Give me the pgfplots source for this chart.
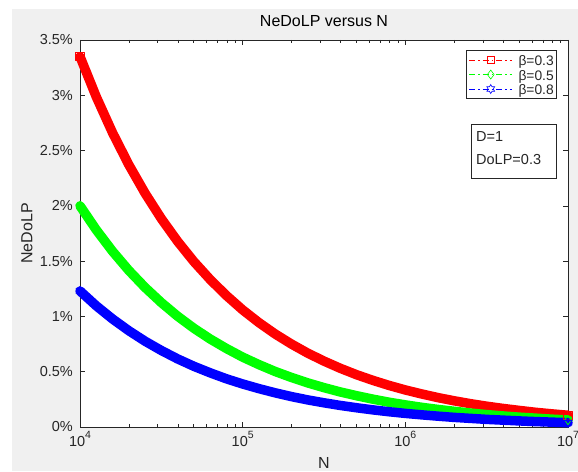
\documentclass[border=0pt]{standalone}
\usepackage{fontspec}
\setmainfont{Liberation Sans}
\usepackage{pgfplots}
\usepackage{pgfplotstable}
\pgfplotsset{compat=1.18}
\usetikzlibrary{plotmarks}

\definecolor{axgray}{HTML}{262626}
\definecolor{figgray}{HTML}{F0F0F0}
\definecolor{mred}{rgb}{1,0,0}
\definecolor{mgreen}{rgb}{0,1,0}
\definecolor{mblue}{rgb}{0,0,1}

% MATLAB style hexagram marker
\pgfdeclareplotmark{hexagram}{%
  \pgfpathmoveto{\pgfpointpolar{90}{\pgfplotmarksize}}%
  \pgfpathlineto{\pgfpointpolar{120}{0.577\pgfplotmarksize}}%
  \pgfpathlineto{\pgfpointpolar{150}{\pgfplotmarksize}}%
  \pgfpathlineto{\pgfpointpolar{180}{0.577\pgfplotmarksize}}%
  \pgfpathlineto{\pgfpointpolar{210}{\pgfplotmarksize}}%
  \pgfpathlineto{\pgfpointpolar{240}{0.577\pgfplotmarksize}}%
  \pgfpathlineto{\pgfpointpolar{270}{\pgfplotmarksize}}%
  \pgfpathlineto{\pgfpointpolar{300}{0.577\pgfplotmarksize}}%
  \pgfpathlineto{\pgfpointpolar{330}{\pgfplotmarksize}}%
  \pgfpathlineto{\pgfpointpolar{0}{0.577\pgfplotmarksize}}%
  \pgfpathlineto{\pgfpointpolar{30}{\pgfplotmarksize}}%
  \pgfpathlineto{\pgfpointpolar{60}{0.577\pgfplotmarksize}}%
  \pgfpathclose\pgfusepathqstroke}

\newcommand{\tp}[1]{10\raisebox{7.5pt}{\fontsize{10.5}{11}\selectfont #1}}
\newcommand{\legfont}{\fontsize{13.8}{16}\selectfont\rule[-4.5pt]{0pt}{17.5pt}}

% NeDoLP in percent, columns: beta=0.3, 0.5, 0.8
\pgfplotstableread{
N        r      g      b
10000    3.350  2.000  1.230
12589    2.986  1.783  1.096
15849    2.661  1.589  0.977
19953    2.372  1.416  0.871
25119    2.114  1.262  0.776
31623    1.884  1.125  0.692
39811    1.679  1.002  0.616
50119    1.496  0.893  0.549
63096    1.334  0.796  0.490
79433    1.189  0.710  0.436
100000   1.059  0.632  0.389
125893   0.944  0.564  0.347
158489   0.841  0.502  0.309
199526   0.750  0.448  0.275
251189   0.668  0.399  0.245
316228   0.596  0.356  0.219
398107   0.531  0.317  0.195
501187   0.473  0.283  0.174
630957   0.422  0.252  0.155
794328   0.376  0.224  0.138
1000000  0.335  0.200  0.123
1258925  0.299  0.178  0.110
1584893  0.266  0.159  0.098
1995262  0.237  0.142  0.087
2511886  0.211  0.126  0.078
3162278  0.188  0.112  0.069
3981072  0.168  0.100  0.062
5011872  0.150  0.089  0.055
6309573  0.133  0.080  0.049
7943282  0.119  0.071  0.044
10000000 0.106  0.063  0.039
}\curves

\begin{document}
\begin{tikzpicture}[x=1pt,y=1pt]
\fill[figgray] (12,0) rectangle (578,462);
\begin{axis}[
    at={(80pt,44pt)}, anchor=south west,
    scale only axis, width=488pt, height=387pt,
    xmode=log, log basis x=10,
    xmin=1e4, xmax=1e7, ymin=0, ymax=3.5,
    clip=false,
    axis background/.style={fill=white},
    axis line style={axgray, line width=0.7pt},
    tick style={axgray, line width=0.6pt},
    tick align=inside,
    major tick length=5pt, minor tick length=3pt,
    xtick={1e4,1e5,1e6,1e7},
    xticklabels={\tp{4},\tp{5},\tp{6},\tp{7}},
    minor xtick={2e4,3e4,4e4,5e4,6e4,7e4,8e4,9e4,
                 2e5,3e5,4e5,5e5,6e5,7e5,8e5,9e5,
                 2e6,3e6,4e6,5e6,6e6,7e6,8e6,9e6},
    ytick={0,0.5,1,1.5,2,2.5,3,3.5},
    yticklabels={0\%,0.5\%,1\%,1.5\%,2\%,2.5\%,3\%,3.5\%},
    ticklabel style={font=\fontsize{14.5}{17}\selectfont, text=axgray},
    xticklabel style={anchor=base, yshift=-19pt, inner sep=0pt},
    yticklabel style={anchor=east, xshift=-7pt, inner sep=0pt},
    label style={font=\fontsize{16}{19}\selectfont, text=axgray},
    xlabel={N},
    xlabel style={at={(axis description cs:0.5,0)}, anchor=base, yshift=-41pt, inner sep=0pt},
    ylabel={NeDoLP},
    ylabel style={at={(axis description cs:-0.1086,0.5)}, anchor=center, inner sep=0pt},
    title={NeDoLP versus N},
    title style={at={(axis description cs:0.5,1)}, anchor=base, yshift=7pt, inner sep=0pt,
                 font=\fontsize{16}{19}\selectfont, text=black},
    legend image code/.code={\draw[mark repeat=2,mark phase=2]
        plot coordinates {(0pt,0pt) (21.5pt,0pt) (43pt,0pt)};},
    legend cell align=left,
    legend style={at={(axis description cs:1,1)}, anchor=north east,
        xshift=-11pt, yshift=-10pt, draw=axgray, line width=0.6pt, fill=white,
        inner xsep=3pt, inner ysep=2.5pt, row sep=0pt, column sep=6pt,
        nodes={inner sep=0pt, text=axgray}},
]
\addplot[mred, line width=9.5pt, line join=round, line cap=round,
    mark=square, mark size=4.2pt, mark indices={1,31}, mark options={line width=0.8pt}, forget plot]
    table[x=N, y=r] {\curves};
\addplot[mgreen, line width=9.5pt, line join=round, line cap=round,
    mark=diamond, mark size=4.6pt, mark indices={1,31}, mark options={line width=0.8pt}, forget plot]
    table[x=N, y=g] {\curves};
\addplot[mblue, line width=9.5pt, line join=round, line cap=round,
    mark=hexagram, mark size=4.6pt, mark indices={1,31}, mark options={line width=0.8pt}, forget plot]
    table[x=N, y=b] {\curves};

\addlegendimage{mred, line width=0.6pt, dash pattern=on 6pt off 3pt on 1.5pt off 3pt,
    mark=square, mark size=3.5pt, mark options={solid}}
\addlegendentry{\legfont β=0.3}
\addlegendimage{mgreen, line width=0.6pt, dash pattern=on 6pt off 3pt on 1.5pt off 3pt,
    mark=diamond, mark size=4.5pt, mark options={solid}}
\addlegendentry{\legfont β=0.5}
\addlegendimage{mblue, line width=0.6pt, dash pattern=on 6pt off 3pt on 1.5pt off 3pt,
    mark=hexagram, mark size=4.5pt, mark options={solid}}
\addlegendentry{\legfont β=0.8}
\end{axis}
\draw[axgray, line width=0.6pt, fill=white] (471,293) rectangle (556,347);
\node[anchor=base west, inner sep=0pt, font=\fontsize{14.5}{17}\selectfont, text=axgray]
    at (476,329) {D=1};
\node[anchor=base west, inner sep=0pt, font=\fontsize{14.5}{17}\selectfont, text=axgray]
    at (476,306) {DoLP=0.3};
\pgfresetboundingbox
\useasboundingbox (0,0) rectangle (578,471);
\end{tikzpicture}
\end{document}
